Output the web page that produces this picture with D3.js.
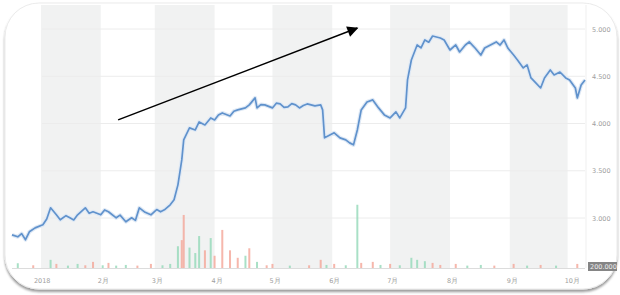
<!DOCTYPE html>
<head>
  <meta charset="utf-8">
  <script src="https://d3js.org/d3.v7.min.js"></script>
  <style>
body { margin: 0; background: #fff; }
.tick-label { font-family: "DejaVu Sans", sans-serif; font-size: 6.5px; fill: #a0a0a0; }
  </style>
</head>
<body>
  <script>
    // price line (date, close)
    var priceDates = ["2017-12-17","2017-12-20","2017-12-22","2017-12-24","2017-12-26","2017-12-29","2018-01-02","2018-01-04","2018-01-06","2018-01-09","2018-01-11","2018-01-14","2018-01-16","2018-01-18","2018-01-20","2018-01-24","2018-01-26","2018-01-28","2018-02-01","2018-02-03","2018-02-05","2018-02-09","2018-02-11","2018-02-14","2018-02-17","2018-02-19","2018-02-21","2018-02-24","2018-02-27","2018-03-02","2018-03-04","2018-03-06","2018-03-09","2018-03-11","2018-03-13","2018-03-15","2018-03-16","2018-03-19","2018-03-22","2018-03-24","2018-03-27","2018-03-30","2018-04-01","2018-04-03","2018-04-05","2018-04-09","2018-04-11","2018-04-13","2018-04-17","2018-04-19","2018-04-22","2018-04-23","2018-04-25","2018-04-27","2018-05-01","2018-05-03","2018-05-05","2018-05-07","2018-05-09","2018-05-11","2018-05-13","2018-05-15","2018-05-17","2018-05-19","2018-05-23","2018-05-26","2018-05-27","2018-05-28","2018-05-31","2018-06-02","2018-06-05","2018-06-08","2018-06-10","2018-06-12","2018-06-14","2018-06-16","2018-06-19","2018-06-22","2018-06-25","2018-06-28","2018-07-01","2018-07-04","2018-07-06","2018-07-09","2018-07-10","2018-07-12","2018-07-15","2018-07-17","2018-07-19","2018-07-21","2018-07-23","2018-07-27","2018-07-29","2018-08-01","2018-08-04","2018-08-06","2018-08-09","2018-08-11","2018-08-14","2018-08-17","2018-08-19","2018-08-22","2018-08-25","2018-08-27","2018-08-29","2018-08-31","2018-09-03","2018-09-05","2018-09-08","2018-09-10","2018-09-12","2018-09-14","2018-09-17","2018-09-19","2018-09-22","2018-09-24","2018-09-27","2018-09-30","2018-10-02","2018-10-05","2018-10-06","2018-10-08","2018-10-10"];
    var priceValues = [2822,2801,2835,2770,2854,2896,2928,2990,3108,3034,2981,3025,3002,2980,3034,3108,3050,3066,3034,3085,3066,3002,3030,2960,3002,2975,3108,3060,3034,3090,3066,3087,3140,3193,3351,3615,3827,3954,3932,4017,3985,4059,4038,4090,4112,4080,4130,4144,4165,4197,4271,4165,4200,4197,4165,4215,4207,4170,4176,4210,4197,4165,4190,4207,4186,4197,4144,3848,3880,3901,3848,3827,3795,3774,3932,4144,4228,4250,4165,4091,4059,4123,4059,4165,4461,4672,4831,4800,4884,4860,4926,4905,4884,4778,4831,4757,4831,4863,4799,4725,4799,4831,4863,4830,4884,4799,4725,4672,4588,4620,4482,4440,4376,4482,4567,4514,4545,4482,4461,4376,4271,4408,4461];

    // volume bars (date, volume in thousands, up/down)
    var volDates = ["2017-12-20","2017-12-28","2018-01-06","2018-01-09","2018-01-15","2018-01-20","2018-01-24","2018-01-28","2018-02-02","2018-02-05","2018-02-09","2018-02-14","2018-02-20","2018-02-27","2018-03-05","2018-03-09","2018-03-13","2018-03-15","2018-03-16","2018-03-19","2018-03-22","2018-03-24","2018-03-27","2018-03-30","2018-04-01","2018-04-05","2018-04-09","2018-04-13","2018-04-17","2018-04-19","2018-04-23","2018-04-28","2018-05-01","2018-05-10","2018-05-20","2018-05-26","2018-05-29","2018-06-02","2018-06-08","2018-06-14","2018-06-16","2018-06-22","2018-06-26","2018-07-01","2018-07-06","2018-07-12","2018-07-15","2018-07-19","2018-07-23","2018-07-27","2018-08-04","2018-08-10","2018-08-17","2018-08-24","2018-09-03","2018-09-10","2018-09-17","2018-09-25","2018-10-06"];
    var volValues = [70,40,120,60,35,60,40,90,40,75,35,45,35,60,40,60,320,410,780,300,220,470,260,440,180,560,260,150,180,290,90,40,60,35,40,120,45,60,40,930,75,90,45,60,40,150,120,100,75,45,60,35,45,35,60,35,45,35,60];
    var volUp = [1,0,1,0,1,1,0,0,1,0,1,1,0,0,1,1,1,0,0,1,1,1,0,1,0,0,0,0,1,0,1,0,0,1,0,0,1,0,1,1,0,0,1,0,1,1,1,1,0,0,0,1,1,0,0,1,0,1,0];

    var yTicks = [5000, 4500, 4000, 3500, 3000];
    var yTickLabels = ["5.000", "4.500", "4.000", "3.500", "3.000"];
    var monthTicks = ["2018-01-01","2018-02-01","2018-03-01","2018-04-01","2018-05-01","2018-06-01","2018-07-01","2018-08-01","2018-09-01","2018-10-01"];
    var monthLabels = ["2018","2月","3月","4月","5月","6月","7月","8月","9月","10月"];
    var volLabel = "200.000";

    // arrow annotation, in data units
    var arrowFrom = {date: "2018-02-10", value: 4038};
    var arrowTo = {date: "2018-06-14", value: 5010};

    var parse = d3.timeParse("%Y-%m-%d");
    var price = priceDates.map(function(d, i) { return {date: parse(d), value: priceValues[i]}; });
    var vols = volDates.map(function(d, i) { return {date: parse(d), value: volValues[i], up: volUp[i]}; });

    var width = 620, height = 295;
    var svg = d3.select("body").append("svg")
      .attr("width", width)
      .attr("height", height);

    var defs = svg.append("defs");
    var f = defs.append("filter").attr("id", "shadow").attr("x", "-5%").attr("y", "-5%").attr("width", "110%").attr("height", "115%");
    f.append("feDropShadow").attr("dx", 0).attr("dy", 2.5).attr("stdDeviation", 1).attr("flood-color", "#000").attr("flood-opacity", 0.4);
    defs.append("clipPath").attr("id", "card-clip")
      .append("rect").attr("x", 5).attr("y", 3).attr("width", 612).attr("height", 286).attr("rx", 34);
    defs.append("marker").attr("id", "head")
      .attr("viewBox", "0 0 10 10").attr("refX", 9).attr("refY", 5)
      .attr("markerWidth", 16).attr("markerHeight", 11).attr("markerUnits", "userSpaceOnUse")
      .attr("orient", "auto")
      .append("path").attr("d", "M0,0L10,5L0,10z").attr("fill", "#000");

    // card
    svg.append("rect")
      .attr("x", 5).attr("y", 3).attr("width", 612).attr("height", 286).attr("rx", 34)
      .attr("fill", "#fff").attr("stroke", "#ebebeb").attr("filter", "url(#shadow)");

    var plotTop = 5, plotBottom = 268, plotLeft = 12, plotRight = 585;

    var x = d3.scaleTime()
      .domain([parse("2017-12-17"), parse("2018-10-10")])
      .range([plotLeft, plotRight]);
    var y = d3.scaleLinear()
      .domain([2471, 5254])
      .range([plotBottom, plotTop]);
    var yVol = d3.scaleLinear()
      .domain([0, 1000])
      .range([plotBottom, plotBottom - 68]);

    var g = svg.append("g").attr("clip-path", "url(#card-clip)");

    // alternating month bands
    var bandMonths = monthTicks.filter(function(d, i) { return i % 2 === 0; });
    g.append("g").selectAll("rect")
      .data(bandMonths)
      .enter().append("rect")
      .attr("x", function(d) { return x(parse(d)); })
      .attr("width", function(d) { return x(d3.timeMonth.offset(parse(d), 1)) - x(parse(d)); })
      .attr("y", plotTop)
      .attr("height", plotBottom - plotTop)
      .attr("fill", "#f1f2f2");

    // horizontal gridlines
    g.append("g").selectAll("line")
      .data(yTicks)
      .enter().append("line")
      .attr("x1", plotLeft + 30).attr("x2", plotRight)
      .attr("y1", function(d) { return y(d); })
      .attr("y2", function(d) { return y(d); })
      .attr("stroke", "#ececec").attr("stroke-width", 1);

    // right edge of plot
    g.append("line")
      .attr("x1", plotRight + 1).attr("x2", plotRight + 1)
      .attr("y1", plotTop).attr("y2", plotBottom)
      .attr("stroke", "#efefef");

    // volume
    g.append("g").selectAll("rect")
      .data(vols)
      .enter().append("rect")
      .attr("x", function(d) { return x(d.date) - 1; })
      .attr("width", 2)
      .attr("y", function(d) { return yVol(d.value); })
      .attr("height", function(d) { return plotBottom - yVol(d.value); })
      .attr("fill", function(d) { return d.up ? "#94d8b8" : "#f4a597"; })
      .attr("opacity", 0.8);

    // baseline
    g.append("line")
      .attr("x1", plotLeft).attr("x2", plotRight)
      .attr("y1", plotBottom + 0.5).attr("y2", plotBottom + 0.5)
      .attr("stroke", "#dcdcdc");

    // price line
    var line = d3.line()
      .x(function(d) { return x(d.date); })
      .y(function(d) { return y(d.value); });
    g.append("path")
      .datum(price)
      .attr("d", line)
      .attr("fill", "none")
      .attr("stroke", "#dfe9f5")
      .attr("stroke-width", 4)
      .attr("stroke-linejoin", "round");
    g.append("path")
      .datum(price)
      .attr("d", line)
      .attr("fill", "none")
      .attr("stroke", "#6092cc")
      .attr("stroke-width", 1.7)
      .attr("stroke-linejoin", "round");

    // y labels on the right
    svg.append("g").selectAll("text")
      .data(yTicks)
      .enter().append("text")
      .attr("class", "tick-label")
      .attr("x", 592)
      .attr("y", function(d) { return y(d) + 2.5; })
      .text(function(d, i) { return yTickLabels[i]; });

    // volume label box
    svg.append("rect")
      .attr("x", 588).attr("y", 262).attr("width", 29).attr("height", 9)
      .attr("fill", "#858585");
    svg.append("text")
      .attr("class", "tick-label")
      .attr("x", 590).attr("y", 269)
      .style("fill", "#eee")
      .text(volLabel);

    // x labels
    svg.append("g").selectAll("text")
      .data(monthTicks)
      .enter().append("text")
      .attr("class", "tick-label")
      .attr("x", function(d, i) { return x(parse(d)) + (i === 0 ? -7 : -3); })
      .attr("y", 283)
      .text(function(d, i) { return monthLabels[i]; });

    // arrow annotation
    svg.append("line")
      .attr("x1", x(parse(arrowFrom.date))).attr("y1", y(arrowFrom.value))
      .attr("x2", x(parse(arrowTo.date))).attr("y2", y(arrowTo.value))
      .attr("stroke", "#000").attr("stroke-width", 1.5)
      .attr("marker-end", "url(#head)");
  </script>
</body>
